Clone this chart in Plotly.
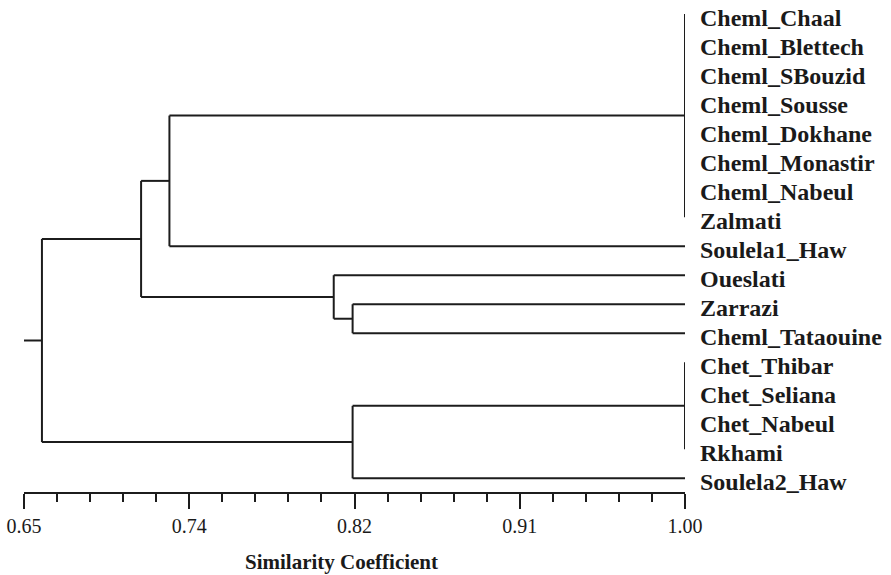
import plotly.graph_objects as go

# ---- data ----
leaf_labels = [
    "Cheml_Chaal", "Cheml_Blettech", "Cheml_SBouzid", "Cheml_Sousse",
    "Cheml_Dokhane", "Cheml_Monastir", "Cheml_Nabeul", "Zalmati",
    "Soulela1_Haw", "Oueslati", "Zarrazi", "Cheml_Tataouine",
    "Chet_Thibar", "Chet_Seliana", "Chet_Nabeul", "Rkhami", "Soulela2_Haw",
]
# internal nodes: children reference leaves by index, internal nodes by name
node_names = ["G1", "G2", "B", "D", "C", "A", "E", "Root"]
node_children = [
    [0, 1, 2, 3, 4, 5, 6, 7],
    [12, 13, 14, 15],
    ["G1", 8],
    [10, 11],
    [9, "D"],
    ["B", "C"],
    ["G2", 16],
    ["A", "E"],
]
node_heights = [1.00, 1.00, 0.727, 0.824, 0.814, 0.712, 0.824, 0.6595]

axis_min, axis_max = 0.65, 1.00
tick_vals = [0.65, 0.7375, 0.825, 0.9125, 1.00]
tick_text = ["0.65", "0.74", "0.82", "0.91", "1.00"]
minor_step = 0.0175

# ---- build dendrogram segments ----
pos = {}  # name -> (x, y)
for i in range(len(leaf_labels)):
    pos[i] = (1.00, i)

xs, ys = [], []
for name, kids, h in zip(node_names, node_children, node_heights):
    kid_pos = [pos[k] for k in kids]
    kys = [p[1] for p in kid_pos]
    y_mid = (min(kys) + max(kys)) / 2
    xs += [h, h, None]
    ys += [min(kys), max(kys), None]
    for (kx, ky) in kid_pos:
        if kx != h:
            xs += [h, kx, None]
            ys += [ky, ky, None]
    pos[name] = (h, y_mid)

rx, ry = pos["Root"]
xs += [axis_min, rx, None]
ys += [ry, ry, None]

line_color = "#1c1c1c"
text_color = "#1a1a1a"
W, H = 891, 575
ml, mr, mt, mb = 24, 891 - 685, 5, 575 - 492
plot_h = H - mt - mb

fig = go.Figure()
fig.add_trace(go.Scatter(x=xs, y=ys, mode="lines",
                         line=dict(color=line_color, width=2),
                         hoverinfo="skip", showlegend=False,
                         cliponaxis=False))

for i, lab in enumerate(leaf_labels):
    fig.add_annotation(x=1.00, y=i, xref="x", yref="y", text="<b>%s</b>" % lab,
                       showarrow=False, xanchor="left", yanchor="middle",
                       xshift=13, yshift=-4,
                       font=dict(family="Liberation Serif", size=24, color=text_color))

title_px_y = 562
fig.add_annotation(x=0.481, y=-(title_px_y - (H - mb)) / plot_h, xref="paper", yref="paper",
                   text="<b>Similarity Coefficient</b>",
                   showarrow=False, xanchor="center", yanchor="middle",
                   font=dict(family="Liberation Serif", size=21, color=text_color))

fig.update_layout(
    width=W, height=H,
    margin=dict(l=ml, r=mr, t=mt, b=mb, autoexpand=False),
    paper_bgcolor="white", plot_bgcolor="white",
    font=dict(family="Liberation Serif", color=text_color),
    xaxis=dict(range=[axis_min, axis_max], showgrid=False, zeroline=False,
               automargin=False,
               showline=True, linecolor=line_color, linewidth=2,
               ticks="outside", ticklen=15, tickwidth=2, tickcolor=line_color,
               tickvals=tick_vals, ticktext=tick_text,
               tickfont=dict(family="Liberation Serif", size=20, color=text_color),
               minor=dict(ticks="outside", ticklen=8, tickwidth=2, tickcolor=line_color,
                          tick0=axis_min, dtick=minor_step, showgrid=False)),
    yaxis=dict(range=[16.47, -0.31], visible=False, showgrid=False, zeroline=False,
               automargin=False),
)

fig.write_html("out.html",
               config={"displayModeBar": False},
               post_script="document.body.style.margin='0';document.body.style.overflow='hidden';")
